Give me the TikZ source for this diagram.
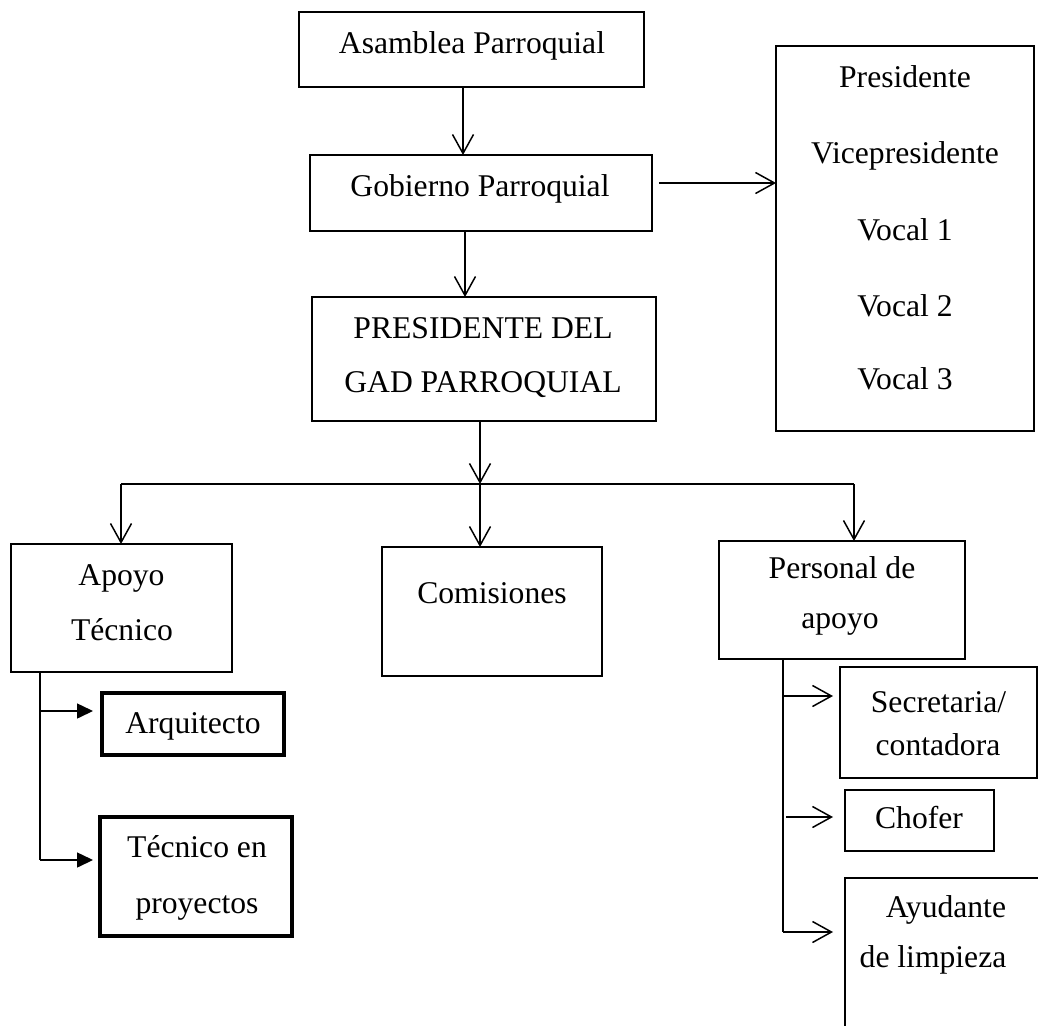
\documentclass[tikz,border=0pt]{standalone}
\usepackage{fontspec}
\setmainfont{Liberation Serif}
\usetikzlibrary{arrows.meta,calc}
\begin{document}
\begin{tikzpicture}[x=0.02cm,y=-0.02cm,
  box/.style={draw, line width=1.1pt, inner sep=0pt, outer sep=0pt},
  bbox/.style={draw, line width=1.8pt, inner sep=0pt, outer sep=0pt},
  lbl/.style={anchor=base, inner sep=0pt, font=\fontsize{18}{22}\selectfont},
  conn/.style={line width=0.85pt},
  arr/.style={conn, -{Straight Barb[length=0.38cm,width=0.42cm,line width=0.85pt]}},
  farr/.style={conn, -{Triangle[length=0.32cm,width=0.3cm]}}]
\clip (0,0) rectangle (1038,1025);
\useasboundingbox (0,0) rectangle (1038,1025);
% boxes
\node[box, minimum width=6.9cm,  minimum height=1.5cm] (asam) at (471.5,49.5) {};
\node[box, minimum width=6.84cm, minimum height=1.52cm] (gob)  at (481,193) {};
\node[box, minimum width=6.88cm, minimum height=2.48cm] (pres) at (484,359) {};
\node[box, minimum width=5.16cm, minimum height=7.7cm]  (cons) at (905,238.5) {};
\node[box, minimum width=4.42cm, minimum height=2.56cm] (apoyo) at (121.5,608) {};
\node[box, minimum width=4.4cm,  minimum height=2.58cm] (com)  at (492,611.5) {};
\node[box, minimum width=4.92cm, minimum height=2.36cm] (pers) at (842,600) {};
\node[bbox, minimum width=3.64cm, minimum height=1.24cm] (arq) at (193,724) {};
\node[bbox, minimum width=3.84cm, minimum height=2.38cm] (tec) at (196,876.5) {};
\node[box, minimum width=3.94cm, minimum height=2.22cm] (sec) at (938.5,722.5) {};
\node[box, minimum width=2.98cm, minimum height=1.22cm] (cho) at (919.5,820.5) {};
\node[box, minimum width=4.3cm,  minimum height=3.7cm]  (ayu) at (952.5,970.5) {};
% texts
\node[lbl] (t1) at (472,53) {Asamblea Parroquial};
\node[lbl] (t2) at (480,196) {Gobierno Parroquial};
\node[lbl] (t3) at (483,338) {PRESIDENTE DEL};
\node[lbl] (t4) at (483,392) {GAD PARROQUIAL};
\node[lbl] (c1) at (905,87) {Presidente};
\node[lbl] (c2) at (905,163) {Vicepresidente};
\node[lbl] (c3) at (905,240) {Vocal 1};
\node[lbl] (c4) at (905,316) {Vocal 2};
\node[lbl] (c5) at (905,389) {Vocal 3};
\node[lbl] (a1) at (121.5,585) {Apoyo};
\node[lbl] (a2) at (122,640) {Técnico};
\node[lbl] (m1) at (492,603) {Comisiones};
\node[lbl] (p1) at (842,578) {Personal de};
\node[lbl] (p2) at (840,628) {apoyo};
\node[lbl] (q1) at (193,733) {Arquitecto};
\node[lbl] (q2) at (197,857) {Técnico en};
\node[lbl] (q3) at (197,913) {proyectos};
\node[lbl] (s1) at (938.5,712) {Secretaria/};
\node[lbl] (s2) at (938,755) {contadora};
\node[lbl] (h1) at (919,828) {Chofer};
\node[lbl] (y1) at (946,917) {Ayudante};
\node[lbl] (y2) at (933,967) {de limpieza};
% connectors
\draw[arr] (asam.south -| 463,0) -- (gob.north -| 463,0);
\draw[arr] (gob.south -| 465,0) -- (pres.north -| 465,0);
\draw[arr, shorten <=0.14cm] (gob.east |- 0,183) -- (cons.west |- 0,183);
\coordinate (bus) at (480,484);
\coordinate (busL) at (121,484);
\coordinate (busR) at (854,484);
\draw[arr] (pres.south -| bus) -- (bus);
\draw[conn] (busL) -- (busR);
\draw[arr] (busL) -- (apoyo.north -| busL);
\draw[arr] (bus) -- (com.north -| bus);
\draw[arr] (busR) -- (pers.north -| busR);
% apoyo tecnico branch
\coordinate (aend) at (40,860);
\draw[conn] (apoyo.south -| aend) -- (aend);
\draw[farr, shorten >=0.18cm] (aend |- 0,711) -- (arq.west |- 0,711);
\draw[farr, shorten >=0.14cm] (aend) -- (tec.west |- aend);
% personal de apoyo branch
\coordinate (pend) at (783,932);
\draw[conn] (pers.south -| pend) -- (pend);
\draw[arr, shorten >=0.14cm] (pend |- 0,696) -- (sec.west |- 0,696);
\draw[arr, shorten <=0.06cm, shorten >=0.24cm] (pend |- 0,817) -- (cho.west |- 0,817);
\draw[arr, shorten >=0.24cm] (pend) -- (ayu.west |- pend);
\end{tikzpicture}
\end{document}
